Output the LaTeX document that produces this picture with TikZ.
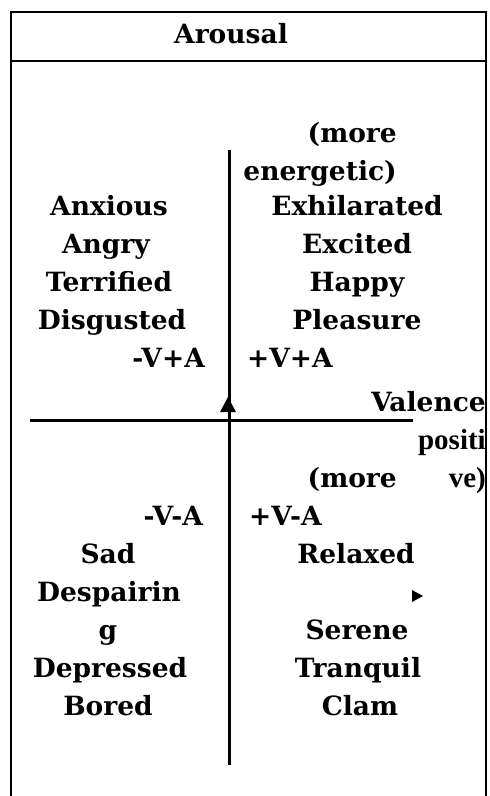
\documentclass[tikz,border=0pt]{standalone}
\usepackage{fontspec}
\setmainfont{DejaVu Serif}
\newfontfamily\narrowfont{Liberation Serif}
\usetikzlibrary{positioning}

\begin{document}
\begin{tikzpicture}[
  x=1pt, y=-1pt,
  font=\bfseries\fontsize{26.5}{30}\selectfont,
  word/.style={anchor=base, inner sep=0pt},
  wordL/.style={anchor=base east, inner sep=0pt},
  wordR/.style={anchor=base west, inner sep=0pt},
  slim/.style={font=\narrowfont\bfseries\fontsize{29}{30}\selectfont},
  axis/.style={line width=3pt},
  frame/.style={line width=2.8pt},
  tip/.style={fill=black}
]
\useasboundingbox (0,0) rectangle (490,796);

% outer box and header
\draw[frame] (11,797) -- (11,12) -- (486,12) -- (486,797);
\draw[frame] (11,61) -- (486,61);
\node[word] (title) at (231,43) {Arousal};

% axes
\coordinate (vtop) at (229,150);
\coordinate (vbot) at (229,765);
\coordinate (hleft) at (30,420);
\coordinate (hright) at (413,420);
\draw[axis] (vtop) -- (vbot);
\draw[axis] (hleft) -- (hright);
\coordinate (uptip) at (228,397);
\fill[tip] (uptip) -- ++(-8,15) -- ++(16,0) -- cycle;
\coordinate (rtip) at (423,596);
\fill[tip] (rtip) -- ++(-11,-6) -- ++(0,12) -- cycle;

% upper left quadrant
\node[word] (anxious) at (109,215) {Anxious};
\node[word] (angry) at (106,253) {Angry};
\node[word] (terrified) at (109,291) {Terrified};
\node[word] (disgusted) at (112,329) {Disgusted};
\node[wordL] (nvpa) at (205,367) {-V+A};

% upper right quadrant
\node[wordL] (more1) at (397,142) {(more};
\node[wordL] (energetic) at (397,180) {energetic)};
\node[word] (exhil) at (357,215) {Exhilarated};
\node[word] (excited) at (357,253) {Excited};
\node[word] (happy) at (357,291) {Happy};
\node[word] (pleasure) at (357,329) {Pleasure};
\node[wordR] (pvpa) at (247,367) {+V+A};

% valence label
\node[wordL] (valence) at (486,411) {Valence};
\node[wordL, slim] (positi) at (486,449) {positi};
\node[wordL] (more2) at (397,487) {(more};
\node[wordL, slim] (ve) at (486,487) {ve)};

% lower left quadrant
\node[wordL] (nvna) at (203,525) {-V-A};
\node[word] (sad) at (108,563) {Sad};
\node[word] (despair) at (109,601) {Despairin};
\node[word] (g) at (108,639) {g};
\node[word] (depressed) at (110,677) {Depressed};
\node[word] (bored) at (108,715) {Bored};

% lower right quadrant
\node[wordR] (pvna) at (249,525) {+V-A};
\node[word] (relaxed) at (356,563) {Relaxed};
\node[word] (serene) at (357,639) {Serene};
\node[word] (tranquil) at (358,677) {Tranquil};
\node[word] (clam) at (360,715) {Clam};

\end{tikzpicture}
\end{document}
